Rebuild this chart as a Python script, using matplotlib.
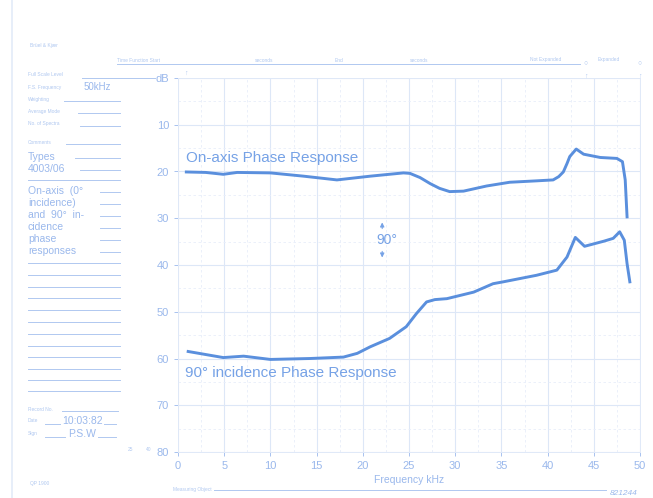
import numpy as np
import matplotlib.pyplot as plt

# Phase response curves (x in kHz, y in dB scale)
on_axis_f = [0.9, 3.0, 4.9, 6.4, 10.0, 13.6, 17.2, 20.8, 24.4, 25.1, 26.2, 27.3, 28.3, 29.4,
             30.9, 33.4, 35.9, 38.8, 40.6, 41.2, 41.7, 42.1, 42.4, 43.1, 43.9, 45.7, 47.5,
             48.1, 48.4, 48.6]
on_axis_db = [20.1, 20.2, 20.6, 20.2, 20.3, 21.0, 21.8, 21.0, 20.3, 20.4, 21.3, 22.6, 23.6,
              24.3, 24.2, 23.1, 22.3, 22.0, 21.8, 21.1, 20.1, 18.3, 16.8, 15.2, 16.3, 17.0,
              17.2, 17.9, 21.8, 29.7]

incid_f = [1.1, 4.9, 7.1, 10.0, 14.3, 17.9, 19.4, 20.8, 22.9, 24.7, 25.8, 26.9, 27.8, 29.1,
           32.0, 34.1, 35.2, 38.8, 41.0, 42.1, 43.0, 44.0, 46.1, 47.1, 47.8, 48.3, 48.6, 48.9]
incid_db = [58.5, 59.8, 59.5, 60.2, 60.0, 59.7, 58.9, 57.5, 55.7, 53.2, 50.4, 47.9, 47.4,
            47.2, 45.8, 44.0, 43.6, 42.2, 41.1, 38.3, 34.1, 36.0, 34.9, 34.3, 32.9, 34.7,
            39.7, 43.6]

x_ticks = [0, 5, 10, 15, 20, 25, 30, 35, 40, 45, 50]
y_ticks = [0, 10, 20, 30, 40, 50, 60, 70, 80]
y_labels = ['dB', '10', '20', '30', '40', '50', '60', '70', '80']

W, H = 653, 498
ink = '#5a8fdd'
paper = '#9ab8ec'
faint = '#b0c8f0'
plt.rcParams['font.family'] = ['Liberation Sans', 'DejaVu Sans']

fig = plt.figure(figsize=(W / 100, H / 100), dpi=100)


def px(x, y):
    return x / W, 1 - y / H


def ftext(x, y, s, size=3.5, color=faint, **kw):
    fig.text(*px(x, y), s, fontsize=size, color=color, va='center', **kw)


def fline(x0, x1, y, color=faint, lw=0.7):
    fig.add_artist(plt.Line2D([x0 / W, x1 / W], [1 - y / H, 1 - y / H], color=color, lw=lw))


ax = fig.add_axes([178 / W, 46 / H, 462 / W, 374 / H])
ax.set_xlim(0, 50)
ax.set_ylim(80, 0)

# chart paper grid
ax.set_xticks(np.arange(0, 50.1, 2.5), minor=True)
ax.set_yticks(np.arange(0, 80.1, 5), minor=True)
ax.grid(True, which='major', color='#dde7f7', lw=0.8)
ax.grid(True, which='minor', color='#e8eefa', lw=0.6, ls=(0, (3, 3)))
ax.set_xticks(x_ticks)
ax.set_yticks(y_ticks)
ax.set_yticklabels(y_labels)
ax.tick_params(colors=paper, labelcolor=paper, labelsize=8, length=3, width=0.6)
ax.tick_params(which='minor', length=0)
for s in ax.spines.values():
    s.set_color('#e0e9f8')
    s.set_linewidth(0.7)
ax.set_xlabel('Frequency kHz', color=paper, fontsize=7.5, labelpad=3)

ax.plot(on_axis_f, on_axis_db, color=ink, lw=2.1, solid_joinstyle='round')
ax.plot(incid_f, incid_db, color=ink, lw=2.1, solid_joinstyle='round')

ax.text(0.9, 17.1, 'On-axis Phase Response', color='#76a2e6', fontsize=11, va='center')
ax.text(0.8, 63.1, '90\u00b0 incidence Phase Response', color='#76a2e6', fontsize=11, va='center')
ax.text(22.6, 34.7, '90\u00b0', color='#76a2e6', fontsize=10, va='center', ha='center')
ax.annotate('', xy=(22.1, 30.3), xytext=(22.1, 32.8),
            arrowprops=dict(arrowstyle='-|>', color='#76a2e6', lw=0.8, mutation_scale=6))
ax.annotate('', xy=(22.1, 39.0), xytext=(22.1, 36.5),
            arrowprops=dict(arrowstyle='-|>', color='#76a2e6', lw=0.8, mutation_scale=6))

# paper edge
fig.add_artist(plt.Line2D([12 / W, 12 / W], [0, 1], color='#e3ebf8', lw=1.2))

# header of the form
ftext(30, 45, 'Br\u00fcel & Kj\u00e6r')
ftext(117, 60, 'Time Function Start')
fline(117, 580, 64)
ftext(255, 60, 'seconds')
ftext(335, 60, 'End')
ftext(410, 60, 'seconds')
ftext(530, 60, 'Not Expanded')
ftext(598, 60, 'Expanded')
for cx in (586, 640):
    ftext(cx, 64, '\u25cb', size=5, ha='center')
    ftext(cx, 76, '\u2191', size=5, ha='center')
ftext(186, 73, '\u2191', size=5, ha='center')

# left side form fields
ftext(28, 75, 'Full Scale Level')
fline(82, 155, 78)
ftext(28, 87, 'F.S. Frequency')
ftext(84, 87, '50kHz', size=7, color=paper)
rows = [(99, 'Weighting', 64), (111, 'Average Mode', 78), (124, 'No. of Spectra', 80),
        (142, 'Comments', 66)]
for y, s, x0 in rows:
    ftext(28, y, s)
    fline(x0, 120, y + 2)

notes = [(157, 'Types', 75), (169, '4003/06', 80), (191, 'On-axis  (0\u00b0', 100),
         (203, 'incidence)', 100), (215, 'and  90\u00b0  in-', 100), (227, 'cidence', 100),
         (239, 'phase', 100), (251, 'responses', 100)]
for y, s, x0 in notes:
    ftext(28, y, s, size=7.5, color=paper)
    fline(x0, 120, y + 1)
for y in [180, 263, 275, 287, 298, 310, 322, 334, 346, 357, 369, 380, 391]:
    fline(28, 120, y)

ftext(28, 409, 'Record No.')
fline(62, 118, 411)
ftext(28, 421, 'Date')
fline(45, 60, 424)
ftext(62, 421, '10:03:82', size=7.5, color=paper)
fline(104, 116, 424)
ftext(28, 434, 'Sign')
fline(45, 65, 437)
ftext(68, 434, 'P.S.W', size=7.5, color=paper)
fline(98, 116, 437)
ftext(128, 449, '25', size=3.5)
ftext(146, 449, '40', size=3.5)
ftext(30, 483, 'QP 1900')
ftext(173, 489, 'Measuring Object')
fline(214, 606, 490)
ftext(610, 493, '821244', size=6, color=paper, style='italic')

fig.savefig('out.png', dpi=100, facecolor='white')
